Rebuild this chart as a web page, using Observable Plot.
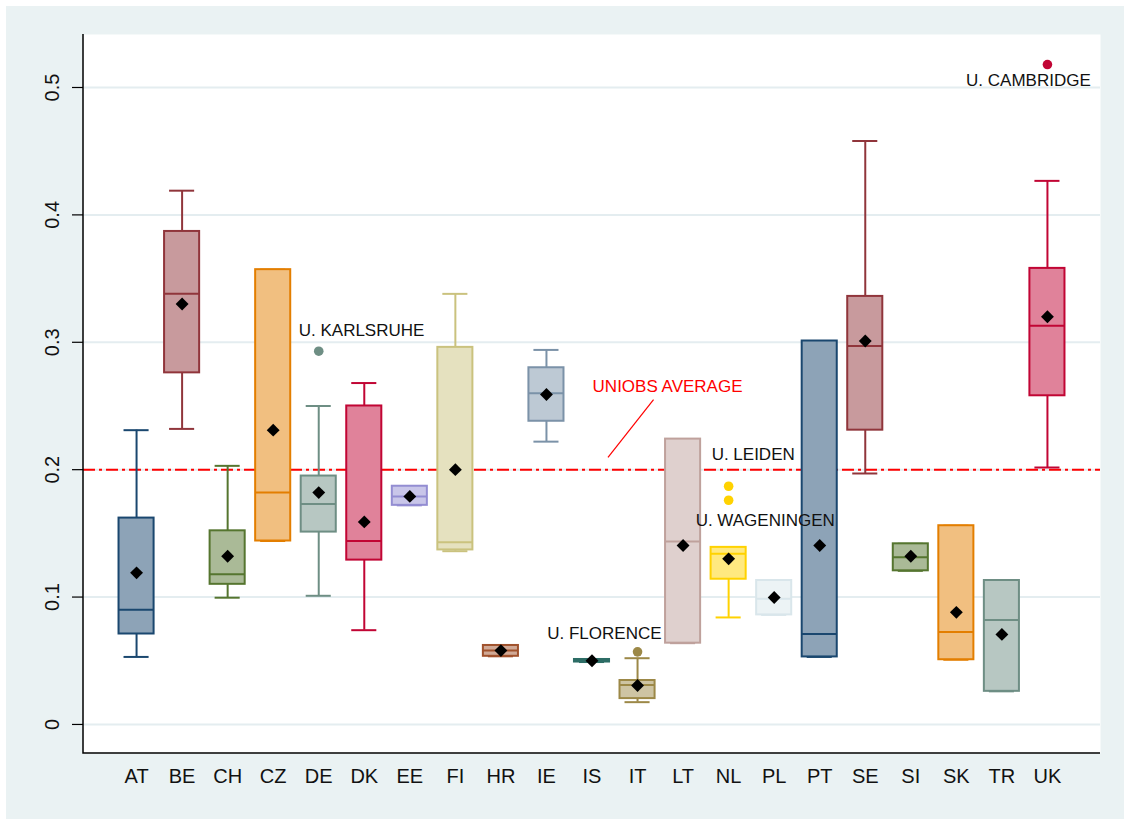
<!DOCTYPE html>
<html>
<head>
<meta charset="utf-8">
<script src="https://cdn.jsdelivr.net/npm/d3@7"></script>
<script src="https://cdn.jsdelivr.net/npm/@observablehq/plot@0.6"></script>
<style>
  html, body { margin: 0; padding: 0; background: #ffffff; }
  #chart { padding: 6px 0 0 6px; }
  #chart svg { display: block; }
</style>
</head>
<body>
<div id="chart"></div>
<script>
// Countries along the horizontal axis
const countries = ["AT","BE","CH","CZ","DE","DK","EE","FI","HR","IE","IS","IT","LT","NL","PL","PT","SE","SI","SK","TR","UK"];

// Box-plot summaries per country
const lowerWhisker = [0.053,0.232,0.0995,0.144,0.101,0.074,0.172,0.136,0.0535,0.222,0.049,0.0175,0.0638,0.084,0.086,0.053,0.197,0.1206,0.0508,0.026,0.2017];
const q1Values     = [0.071,0.276,0.110,0.144,0.151,0.129,0.172,0.137,0.0535,0.238,0.049,0.0203,0.0638,0.114,0.086,0.053,0.231,0.1206,0.0508,0.026,0.258];
const medianValues = [0.090,0.338,0.118,0.182,0.173,0.144,0.179,0.143,0.058,0.260,0.050,0.031,0.1436,0.134,0.0987,0.071,0.297,0.1313,0.0725,0.082,0.313];
const q3Values     = [0.162,0.387,0.152,0.357,0.195,0.250,0.187,0.296,0.062,0.280,0.051,0.0345,0.224,0.139,0.113,0.301,0.336,0.1418,0.156,0.113,0.358];
const upperWhisker = [0.231,0.419,0.203,0.357,0.250,0.268,0.187,0.338,0.062,0.294,0.051,0.052,0.224,0.139,0.113,0.301,0.458,0.1418,0.156,0.113,0.4267];
const meanValues   = [0.119,0.330,0.132,0.231,0.182,0.159,0.179,0.200,0.058,0.259,0.050,0.0306,0.1405,0.130,0.0997,0.1405,0.301,0.132,0.088,0.0707,0.320];

// Individual outlying universities
const outlierCountry = ["DE","IT","NL","NL","UK"];
const outlierValue   = [0.293,0.057,0.187,0.176,0.518];
const outlierLabel   = ["U. KARLSRUHE","U. FLORENCE","U. LEIDEN","U. WAGENINGEN","U. CAMBRIDGE"];

// Overall average reference
const averageValue = 0.2;
const averageLabel = "UNIOBS AVERAGE";

// Vertical axis ticks
const yTicks = [0, 0.1, 0.2, 0.3, 0.4, 0.5];
const yTickLabels = ["0", "0.1", "0.2", "0.3", "0.4", "0.5"];

// Palette cycling through the s2color scheme
const palette = ["#1a476f","#90353b","#55752f","#e37e00","#6e8e84","#c10534","#938dd2","#cac27e","#a0522d","#7b92a8","#2d6d66","#9c8847","#bfa19c","#ffd200","#d9e6eb"];
const strokeOf = i => palette[i % palette.length];
const fillOf = i => d3.interpolateRgb(strokeOf(i), "#ffffff")(0.5);

const rows = countries.map((c, i) => ({
  country: c,
  lo: lowerWhisker[i], q1: q1Values[i], med: medianValues[i],
  q3: q3Values[i], hi: upperWhisker[i], mean: meanValues[i],
  stroke: strokeOf(i), fill: fillOf(i)
}));

const outliers = outlierCountry.map((c, i) => ({
  country: c, value: outlierValue[i], label: outlierLabel[i],
  stroke: strokeOf(countries.indexOf(c))
}));

// Where each outlier name sits relative to its dot
const labelPlacement = {
  "U. KARLSRUHE":  {textAnchor: "start",  dx: -20, dy: -21},
  "U. FLORENCE":   {textAnchor: "end",    dx: 24,  dy: -18},
  "U. LEIDEN":     {textAnchor: "start",  dx: -17, dy: -32},
  "U. WAGENINGEN": {textAnchor: "start",  dx: -33, dy: 20},
  "U. CAMBRIDGE":  {textAnchor: "middle", dx: -19, dy: 16}
};

const textColor = "#111111";

// Left and bottom axis lines of the plotting area
function axisLines(index, scales, values, dims) {
  const ns = "http://www.w3.org/2000/svg";
  const g = document.createElementNS(ns, "g");
  const p = document.createElementNS(ns, "path");
  const x0 = dims.marginLeft, x1 = dims.width - dims.marginRight;
  const y0 = dims.marginTop, y1 = dims.height - dims.marginBottom;
  p.setAttribute("d", `M${x0},${y0}V${y1}H${x1}`);
  p.setAttribute("fill", "none");
  p.setAttribute("stroke", "#000");
  p.setAttribute("stroke-width", "1.5");
  g.appendChild(p);
  return g;
}

const outlierLabelMarks = outliers.map(o => Plot.text([o], {
  x: "country", y: "value", text: "label",
  fill: textColor, fontSize: 17,
  lineAnchor: "middle",
  ...labelPlacement[o.label]
}));

const chart = Plot.plot({
  width: 1118,
  height: 813,
  marginLeft: 77,
  marginRight: 24,
  marginTop: 28,
  marginBottom: 66,
  style: {background: "#eaf2f3", fontFamily: "'Liberation Sans', Arial, Helvetica, sans-serif", color: textColor},
  x: {type: "band", domain: countries, paddingInner: 0.23, paddingOuter: 0.78, round: false},
  y: {domain: [-0.0228, 0.5416]},
  color: {type: "identity"},
  marks: [
    Plot.frame({fill: "#ffffff", stroke: "none"}),
    Plot.gridY(yTicks, {stroke: "#e4edf0", strokeOpacity: 1, strokeWidth: 2}),
    Plot.ruleY([averageValue], {stroke: "#ff0000", strokeWidth: 2, strokeDasharray: "12,4,3,4"}),
    // whiskers
    Plot.ruleX(rows, {x: "country", y1: "q3", y2: "hi", stroke: "stroke", strokeWidth: 2}),
    Plot.ruleX(rows, {x: "country", y1: "lo", y2: "q1", stroke: "stroke", strokeWidth: 2}),
    Plot.tickY(rows, {x: "country", y: "hi", stroke: "stroke", strokeWidth: 2, insetLeft: 5, insetRight: 5}),
    Plot.tickY(rows, {x: "country", y: "lo", stroke: "stroke", strokeWidth: 2, insetLeft: 5, insetRight: 5}),
    // boxes and medians
    Plot.barY(rows, {x: "country", y1: "q1", y2: "q3", fill: "fill", stroke: "stroke", strokeWidth: 2}),
    Plot.tickY(rows, {x: "country", y: "med", stroke: "stroke", strokeWidth: 2}),
    // means
    Plot.dot(rows, {x: "country", y: "mean", symbol: "diamond2", r: 5.8, fill: "#000000", stroke: "none"}),
    // outliers
    Plot.dot(outliers, {x: "country", y: "value", r: 4.8, fill: "stroke", stroke: "none"}),
    ...outlierLabelMarks,
    // average annotation with leader line
    Plot.link([averageValue], {
      x1: () => "IS", y1: d => d + 0.0096,
      x2: () => "IT", y2: d => d + 0.055,
      dx: 16, stroke: "#ff0000", strokeWidth: 1.2
    }),
    Plot.text([averageLabel], {
      x: () => "IT", y: () => averageValue, text: d => d, dx: 30, dy: -83,
      fill: "#ff0000", fontSize: 17, textAnchor: "middle", lineAnchor: "middle"
    }),
    axisLines,
    Plot.axisY({ticks: yTicks, tickSize: 11, tickFormat: () => "", label: null, stroke: "#000", strokeWidth: 1.2}),
    Plot.text(yTicks, {
      y: d => d, frameAnchor: "left", dx: -31, rotate: -90,
      text: (d, i) => yTickLabels[i],
      fontSize: 20, fill: textColor, textAnchor: "middle", lineAnchor: "middle"
    }),
    Plot.axisX({tickSize: 0, tickPadding: 15, fontSize: 20, label: null, fill: textColor})
  ]
});

document.getElementById("chart").appendChild(chart);
</script>
</body>
</html>
